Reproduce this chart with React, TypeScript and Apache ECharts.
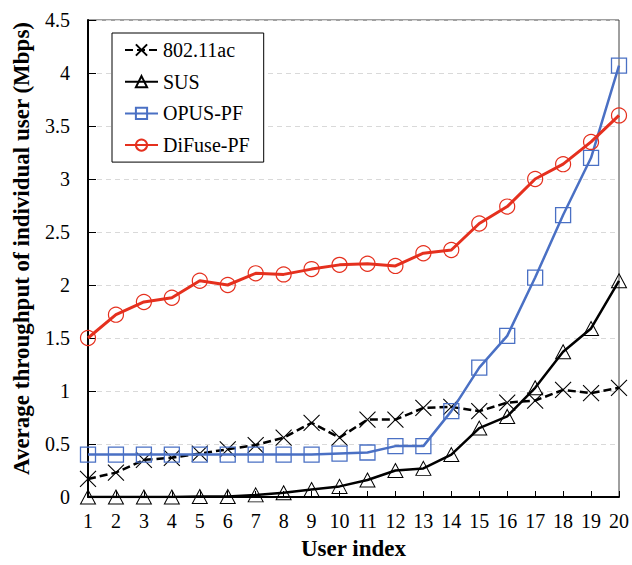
import React, { useEffect, useRef } from "react";
import * as echarts from "echarts";

const userIndex = ["1","2","3","4","5","6","7","8","9","10","11","12","13","14","15","16","17","18","19","20"];
const seriesNames = ["802.11ac", "SUS", "OPUS-PF", "DiFuse-PF"];
const wifi = [0.17, 0.23, 0.35, 0.37, 0.41, 0.45, 0.49, 0.56, 0.70, 0.56, 0.73, 0.73, 0.84, 0.85, 0.81, 0.89, 0.91, 1.01, 0.98, 1.03];
const sus = [0, 0, 0, 0, 0.005, 0.005, 0.02, 0.04, 0.07, 0.10, 0.16, 0.25, 0.27, 0.40, 0.65, 0.76, 1.03, 1.37, 1.59, 2.04];
const opus = [0.40, 0.40, 0.40, 0.40, 0.40, 0.40, 0.40, 0.40, 0.40, 0.41, 0.42, 0.48, 0.48, 0.81, 1.22, 1.52, 2.07, 2.66, 3.20, 4.07];
const difuse = [1.50, 1.72, 1.84, 1.88, 2.04, 2.00, 2.11, 2.10, 2.15, 2.19, 2.20, 2.18, 2.30, 2.33, 2.58, 2.74, 3.00, 3.14, 3.35, 3.60];

const FONT = "'Liberation Serif', 'Times New Roman', serif";
const CROSS = "path://M0,0L10,10M0,10L10,0";

export default function App() {
  const ref = useRef<HTMLDivElement>(null);
  useEffect(() => {
    if (!ref.current) return;
    const chart = echarts.init(ref.current, null, { renderer: "svg" });
    chart.setOption({
      animation: false,
      backgroundColor: "#fff",
      textStyle: { fontFamily: FONT },
      grid: {
        left: 88, top: 20, width: 534, height: 483,
        show: true, borderColor: "#404040", borderWidth: 1, backgroundColor: "transparent",
      },
      legend: {
        orient: "vertical",
        left: 112, top: 33,
        data: seriesNames,
        backgroundColor: "#fff",
        borderColor: "#000", borderWidth: 1,
        padding: [7, 14, 7, 12],
        itemWidth: 33, itemHeight: 14, itemGap: 11.7,
        textStyle: { fontFamily: FONT, fontSize: 20, color: "#000", lineHeight: 20 },
      },
      xAxis: {
        type: "category",
        data: userIndex,
        boundaryGap: false,
        name: "User index",
        nameLocation: "middle",
        nameGap: 40,
        nameTextStyle: { fontFamily: FONT, fontSize: 23, fontWeight: "bold", color: "#000" },
        axisLine: { lineStyle: { color: "#000", width: 2 } },
        axisTick: { inside: true, length: 6, alignWithLabel: true, lineStyle: { color: "#000", width: 1 } },
        axisLabel: { fontFamily: FONT, fontSize: 20, color: "#000", margin: 14, interval: 0 },
        splitLine: { show: false },
      },
      yAxis: {
        type: "value",
        min: 0, max: 4.5, interval: 0.5,
        name: "Average throughput of individual user (Mbps)",
        nameLocation: "middle",
        nameGap: 55,
        nameTextStyle: { fontFamily: FONT, fontSize: 23, fontWeight: "bold", color: "#000", padding: [0, 0, 0, 20] },
        axisLine: { show: true, lineStyle: { color: "#000", width: 2 } },
        axisTick: { show: true, inside: true, length: 8, lineStyle: { color: "#000", width: 1 } },
        axisLabel: { fontFamily: FONT, fontSize: 20, color: "#000", margin: 18 },
        splitLine: { show: true, lineStyle: { color: "#d9d9d9", width: 1, type: [5, 4] } },
      },
      series: [
        {
          name: seriesNames[0], type: "line", data: wifi,
          symbol: CROSS, symbolSize: 16,
          lineStyle: { color: "#000", width: 2.5, type: [8, 4] },
          itemStyle: { color: "#000", borderColor: "#000", borderWidth: 1.1 },
          z: 3,
        },
        {
          name: seriesNames[1], type: "line", data: sus,
          symbol: "triangle", symbolSize: [15, 14],
          lineStyle: { color: "#000", width: 2.5 },
          itemStyle: { color: "rgba(0,0,0,0)", borderColor: "#000", borderWidth: 1 },
          z: 4,
        },
        {
          name: seriesNames[2], type: "line", data: opus,
          symbol: "rect", symbolSize: 15,
          lineStyle: { color: "#4a70c4", width: 2.5 },
          itemStyle: { color: "rgba(0,0,0,0)", borderColor: "#4a70c4", borderWidth: 1.3 },
          z: 5,
        },
        {
          name: seriesNames[3], type: "line", data: difuse,
          symbol: "circle", symbolSize: 15,
          lineStyle: { color: "#e5301e", width: 3 },
          itemStyle: { color: "rgba(0,0,0,0)", borderColor: "#e5301e", borderWidth: 1.2 },
          z: 6,
        },
      ],
    });
    return () => chart.dispose();
  }, []);
  return <div ref={ref} style={{ width: 632, height: 565, position: "absolute", left: 0, top: 0 }} />;
}
